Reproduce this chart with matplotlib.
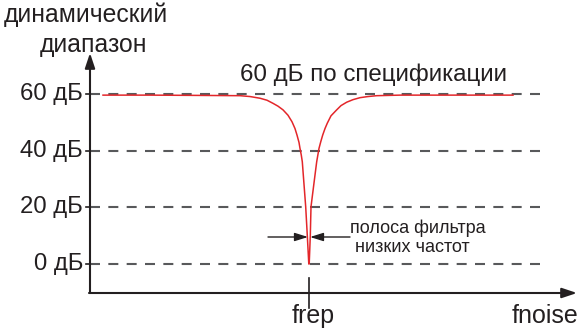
import matplotlib.pyplot as plt

# частоты (в условных единицах оси) и динамический диапазон, дБ
freq_left = [103, 150, 200, 240, 250, 260, 267, 273, 278, 283, 288, 292, 295,
             297, 299, 300, 301.3, 302.3, 303.3, 304.5, 305.7, 307.3, 308.8]
db_left = [59.6, 59.6, 59.5, 59.4, 59.1, 58.5, 57.8, 56.7, 55.7, 54.4, 52.5, 50.2, 47.8,
           45.5, 42.9, 40.8, 38.4, 36.1, 31.4, 25.8, 20.2, 10.0, 0.0]
freq_right = [309.2, 310.3, 311, 313, 315, 316.7, 319, 320.8, 322.7, 325, 327.3,
              331, 336.7, 341, 346.7, 353, 360, 368, 376.7, 400, 450, 513]
db_right = [0.0, 10.0, 20.2, 25.8, 31.4, 36.1, 40.8, 43.2, 45.5, 47.8, 49.7,
            52.3, 54.4, 55.9, 57.1, 58.0, 58.7, 59.1, 59.4, 59.6, 59.6, 59.6]

grid_db = [60, 40, 20, 0]
grid_labels = ['60 дБ', '40 дБ', '20 дБ', '0 дБ']
f_rep = 309

BLACK = '#231f20'
GRAY = '#58595b'
RED = '#e3262a'

W, H = 577, 331
DB_PER_PX = 20 / 56.67
Y0_PX = 264  # пиксель уровня 0 дБ


def py2db(py):
    return (Y0_PX - py) * DB_PER_PX


def fig_xy(x, y):
    return x / W, 1 - y / H


fig = plt.figure(figsize=(W / 100, H / 100), dpi=100)
ax = fig.add_axes([0, 0, 1, 1])
ax.set_xlim(0, W)
ax.set_ylim(py2db(H), py2db(0))
ax.axis('off')

plt.rcParams['font.family'] = ['Liberation Sans', 'DejaVu Sans']

# пунктирные линии уровней
for lvl in grid_db:
    ax.plot([90, 540], [lvl, lvl], color=GRAY, lw=1.5, dashes=(4.8, 4), solid_capstyle='butt')

# кривая
ax.plot(freq_left + freq_right, db_left + db_right, color=RED, lw=1.1)

# оси со стрелками
x_axis_db = py2db(293)
ax.annotate('', xy=(577, x_axis_db), xytext=(89, x_axis_db),
            arrowprops=dict(arrowstyle='-|>,head_length=0.9,head_width=0.3', color=BLACK, lw=1.5,
                            shrinkA=0, shrinkB=0))
ax.annotate('', xy=(90, py2db(53)), xytext=(90, x_axis_db),
            arrowprops=dict(arrowstyle='-|>,head_length=0.9,head_width=0.3', color=BLACK, lw=1.5,
                            shrinkA=0, shrinkB=0))
for lvl in grid_db:
    ax.plot([86, 90], [lvl, lvl], color=BLACK, lw=1.2)
ax.plot([f_rep, f_rep], [py2db(278), py2db(308)], color=BLACK, lw=1.2)

# метки уровней
for lvl, lab in zip(grid_db, grid_labels):
    ax.text(83, lvl, lab, ha='right', va='center', fontsize=17.2, color=BLACK)

# стрелки полосы фильтра
arr_db = py2db(237)
ax.annotate('', xy=(308, arr_db), xytext=(268, arr_db),
            arrowprops=dict(arrowstyle='-|>,head_length=0.8,head_width=0.25', color=BLACK, lw=1,
                            shrinkA=0, shrinkB=0))
ax.annotate('', xy=(310, arr_db), xytext=(350, arr_db),
            arrowprops=dict(arrowstyle='-|>,head_length=0.8,head_width=0.25', color=BLACK, lw=1,
                            shrinkA=0, shrinkB=0))

fig.text(*fig_xy(86, 15), 'динамический', ha='center', va='center', fontsize=17.8, color=BLACK)
fig.text(*fig_xy(93, 45), 'диапазон', ha='center', va='center', fontsize=17.8, color=BLACK)
fig.text(*fig_xy(374, 75), '60 дБ по спецификации', ha='center', va='center', fontsize=17.4, color=BLACK)
fig.text(*fig_xy(418, 228), 'полоса фильтра', ha='center', va='center', fontsize=13, color=BLACK)
fig.text(*fig_xy(412, 247), 'низких частот', ha='center', va='center', fontsize=13, color=BLACK)
fig.text(*fig_xy(313, 316), 'frep', ha='center', va='center', fontsize=18, color=BLACK)
fig.text(*fig_xy(545, 316), 'fnoise', ha='center', va='center', fontsize=18, color=BLACK)

fig.savefig('out.png', dpi=100)
